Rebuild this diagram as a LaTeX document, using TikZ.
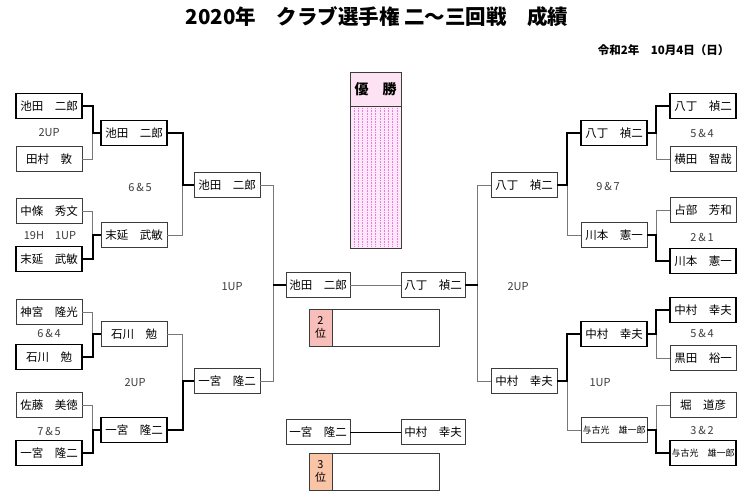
\documentclass[tikz,border=0pt]{standalone}
\usepackage{fontspec}
\setmainfont{Noto Sans CJK JP}
\usepackage{xcolor}
\usepackage{tikz}
\usetikzlibrary{positioning}
\definecolor{brkGray}{RGB}{120,120,120}
\definecolor{brkDark}{RGB}{60,60,60}
\definecolor{champPink}{RGB}{252,226,242}
\definecolor{champBody}{RGB}{255,232,250}
\definecolor{champDot}{RGB}{236,120,226}
\definecolor{silverCell}{RGB}{248,190,186}
\definecolor{bronzeCell}{RGB}{250,196,166}

\begin{document}
\begin{tikzpicture}[x=1pt,y=-1pt,
    player/.style={draw=brkDark, line width=0.7pt, fill=white, minimum width=66pt,
        minimum height=25pt, inner sep=0pt, font=\fontsize{11.5}{13}\selectfont},
    winner/.style={player, draw=black, line width=1.5pt},
    smallname/.style={font=\fontsize{9}{10}\selectfont},
    score/.style={text=brkDark, font=\fontsize{11}{13}\selectfont},
    link/.style={brkGray, line width=0.7pt},
    winlink/.style={black, line width=1.6pt}]
    \fill[white] (0,0) rectangle (751,502);
    \useasboundingbox (0,0) rectangle (751,502);

    % heading
    \node[font=\fontsize{20.5}{24}\selectfont\bfseries] (title) at (377,17)
        {2020年　クラブ選手権 二～三回戦　成績};
    \node[anchor=east, font=\fontsize{11.5}{13}\selectfont\bfseries] (date) at (733,50)
        {令和2年　10月4日（日）};

    % left half: first round
    \node[winner] (la1) at (49,106) {池田　二郎};
    \node[player] (la2) at (49,159) {田村　敦};
    \node[player] (la3) at (49,211) {中條　秀文};
    \node[winner] (la4) at (49,259) {末延　武敏};
    \node[player] (la5) at (49,312) {神宮　隆光};
    \node[winner] (la6) at (49,357) {石川　勉};
    \node[player] (la7) at (49,405) {佐藤　美徳};
    \node[winner] (la8) at (49,453) {一宮　隆二};

    % left half: second and third round
    \node[winner] (lb1) at (134,133) {池田　二郎};
    \node[player] (lb2) at (134,235) {末延　武敏};
    \node[player] (lb3) at (134,334) {石川　勉};
    \node[winner] (lb4) at (134,430) {一宮　隆二};
    \node[player] (lc1) at (227,185) {池田　二郎};
    \node[player] (lc2) at (227,381) {一宮　隆二};

    % right half: first round
    \node[winner] (ra1) at (703,106) {八丁　禎二};
    \node[player] (ra2) at (703,159) {横田　智哉};
    \node[player] (ra3) at (703,210) {占部　芳和};
    \node[winner] (ra4) at (703,261) {川本　憲一};
    \node[winner] (ra5) at (703,310) {中村　幸夫};
    \node[player] (ra6) at (703,358) {黒田　裕一};
    \node[player] (ra7) at (703,405) {堀　道彦};
    \node[winner, smallname] (ra8) at (703,453) {与古光　雄一郎};

    % right half: second and third round
    \node[winner] (rb1) at (614,133) {八丁　禎二};
    \node[player] (rb2) at (614,235) {川本　憲一};
    \node[winner] (rb3) at (614,334) {中村　幸夫};
    \node[player, smallname] (rb4) at (614,430) {与古光　雄一郎};
    \node[player] (rc1) at (524,185) {八丁　禎二};
    \node[player] (rc2) at (524,381) {中村　幸夫};

    % final and third place match
    \node[player, minimum width=64pt] (fL) at (318,285) {池田　二郎};
    \node[player, minimum width=64pt] (fR) at (433,285) {八丁　禎二};
    \node[player, minimum width=64pt] (tL) at (318,432) {一宮　隆二};
    \node[player, minimum width=64pt] (tR) at (433,432) {中村　幸夫};

    % bracket lines, loser thin first, winner thick on top
    \foreach \w/\l/\n/\d in {la1/la2/lb1/10, la4/la3/lb2/10, la6/la5/lb3/10,
        la8/la7/lb4/10, lb1/lb2/lc1/15, lb4/lb3/lc2/15} {
        \draw[link] (\l.east) -- ++(\d,0) |- (\n.west);
        \draw[winlink] (\w.east) -- ++(\d,0) |- (\n.west);
    }
    \foreach \w/\l/\n/\d in {ra1/ra2/rb1/13, ra4/ra3/rb2/13, ra5/ra6/rb3/13,
        ra8/ra7/rb4/13, rb1/rb2/rc1/13, rb3/rb4/rc2/13} {
        \draw[link] (\l.west) -- ++(-\d,0) |- (\n.east);
        \draw[winlink] (\w.west) -- ++(-\d,0) |- (\n.east);
    }
    \draw[link] (lc1.east) -- ++(13,0) |- (fL.west);
    \draw[link] (lc2.east) -- ++(13,0) |- (fL.west);
    \draw[winlink] (fL.west) -- ++(-13,0);
    \draw[link] (rc1.west) -- ++(-13,0) |- (fR.east);
    \draw[link] (rc2.west) -- ++(-13,0) |- (fR.east);
    \draw[winlink] (fR.east) -- ++(13,0);
    \draw[link] (fL) -- (fR);
    \draw[black, line width=0.7pt] (tL) -- (tR);

    % scores
    \node[score] (s1) at (49,133) {2UP};
    \node[score] (s2) at (140,187) {6\,\&\,5};
    \node[score] (s3) at (50,236) {19H　1UP};
    \node[score] (s4) at (49,333) {6\,\&\,4};
    \node[score] (s5) at (135,383) {2UP};
    \node[score] (s6) at (49,431) {7\,\&\,5};
    \node[score] (s7) at (232,287) {1UP};
    \node[score] (s8) at (702,133) {5\,\&\,4};
    \node[score] (s9) at (608,186) {9\,\&\,7};
    \node[score] (s10) at (702,237) {2\,\&\,1};
    \node[score] (s11) at (518,287) {2UP};
    \node[score] (s12) at (702,333) {5\,\&\,4};
    \node[score] (s13) at (600,383) {1UP};
    \node[score] (s14) at (702,430) {3\,\&\,2};

    % champion column
    \node[draw=brkDark, line width=0.9pt, fill=champBody, minimum width=51pt,
        minimum height=176pt, anchor=north, inner sep=0pt] (champ) at (375.5,72) {};
    \foreach \k in {0,...,10}
        \draw[champDot, densely dotted, line width=0.6pt] (354+\k*4.3,108) -- (354+\k*4.3,246);
    \node[draw=brkDark, line width=0.9pt, fill=champPink, minimum width=51pt,
        minimum height=34pt, anchor=north, font=\fontsize{14}{16}\selectfont\bfseries]
        (champhead) at (champ.north) {優　勝};

    % second and third place boxes
    \node[draw=brkDark, line width=0.7pt, minimum width=130pt, minimum height=37pt] (second) at (374,327.5) {};
    \node[draw=brkDark, line width=0.7pt, fill=silverCell, minimum width=23pt, minimum height=37pt,
        anchor=north west, inner sep=0pt, align=center, font=\fontsize{11}{13}\selectfont]
        (secondtag) at (second.north west) {2\\位};
    \node[draw=brkDark, line width=0.7pt, minimum width=130pt, minimum height=37pt] (third) at (374,471.5) {};
    \node[draw=brkDark, line width=0.7pt, fill=bronzeCell, minimum width=23pt, minimum height=37pt,
        anchor=north west, inner sep=0pt, align=center, font=\fontsize{11}{13}\selectfont]
        (thirdtag) at (third.north west) {3\\位};
\end{tikzpicture}
\end{document}
